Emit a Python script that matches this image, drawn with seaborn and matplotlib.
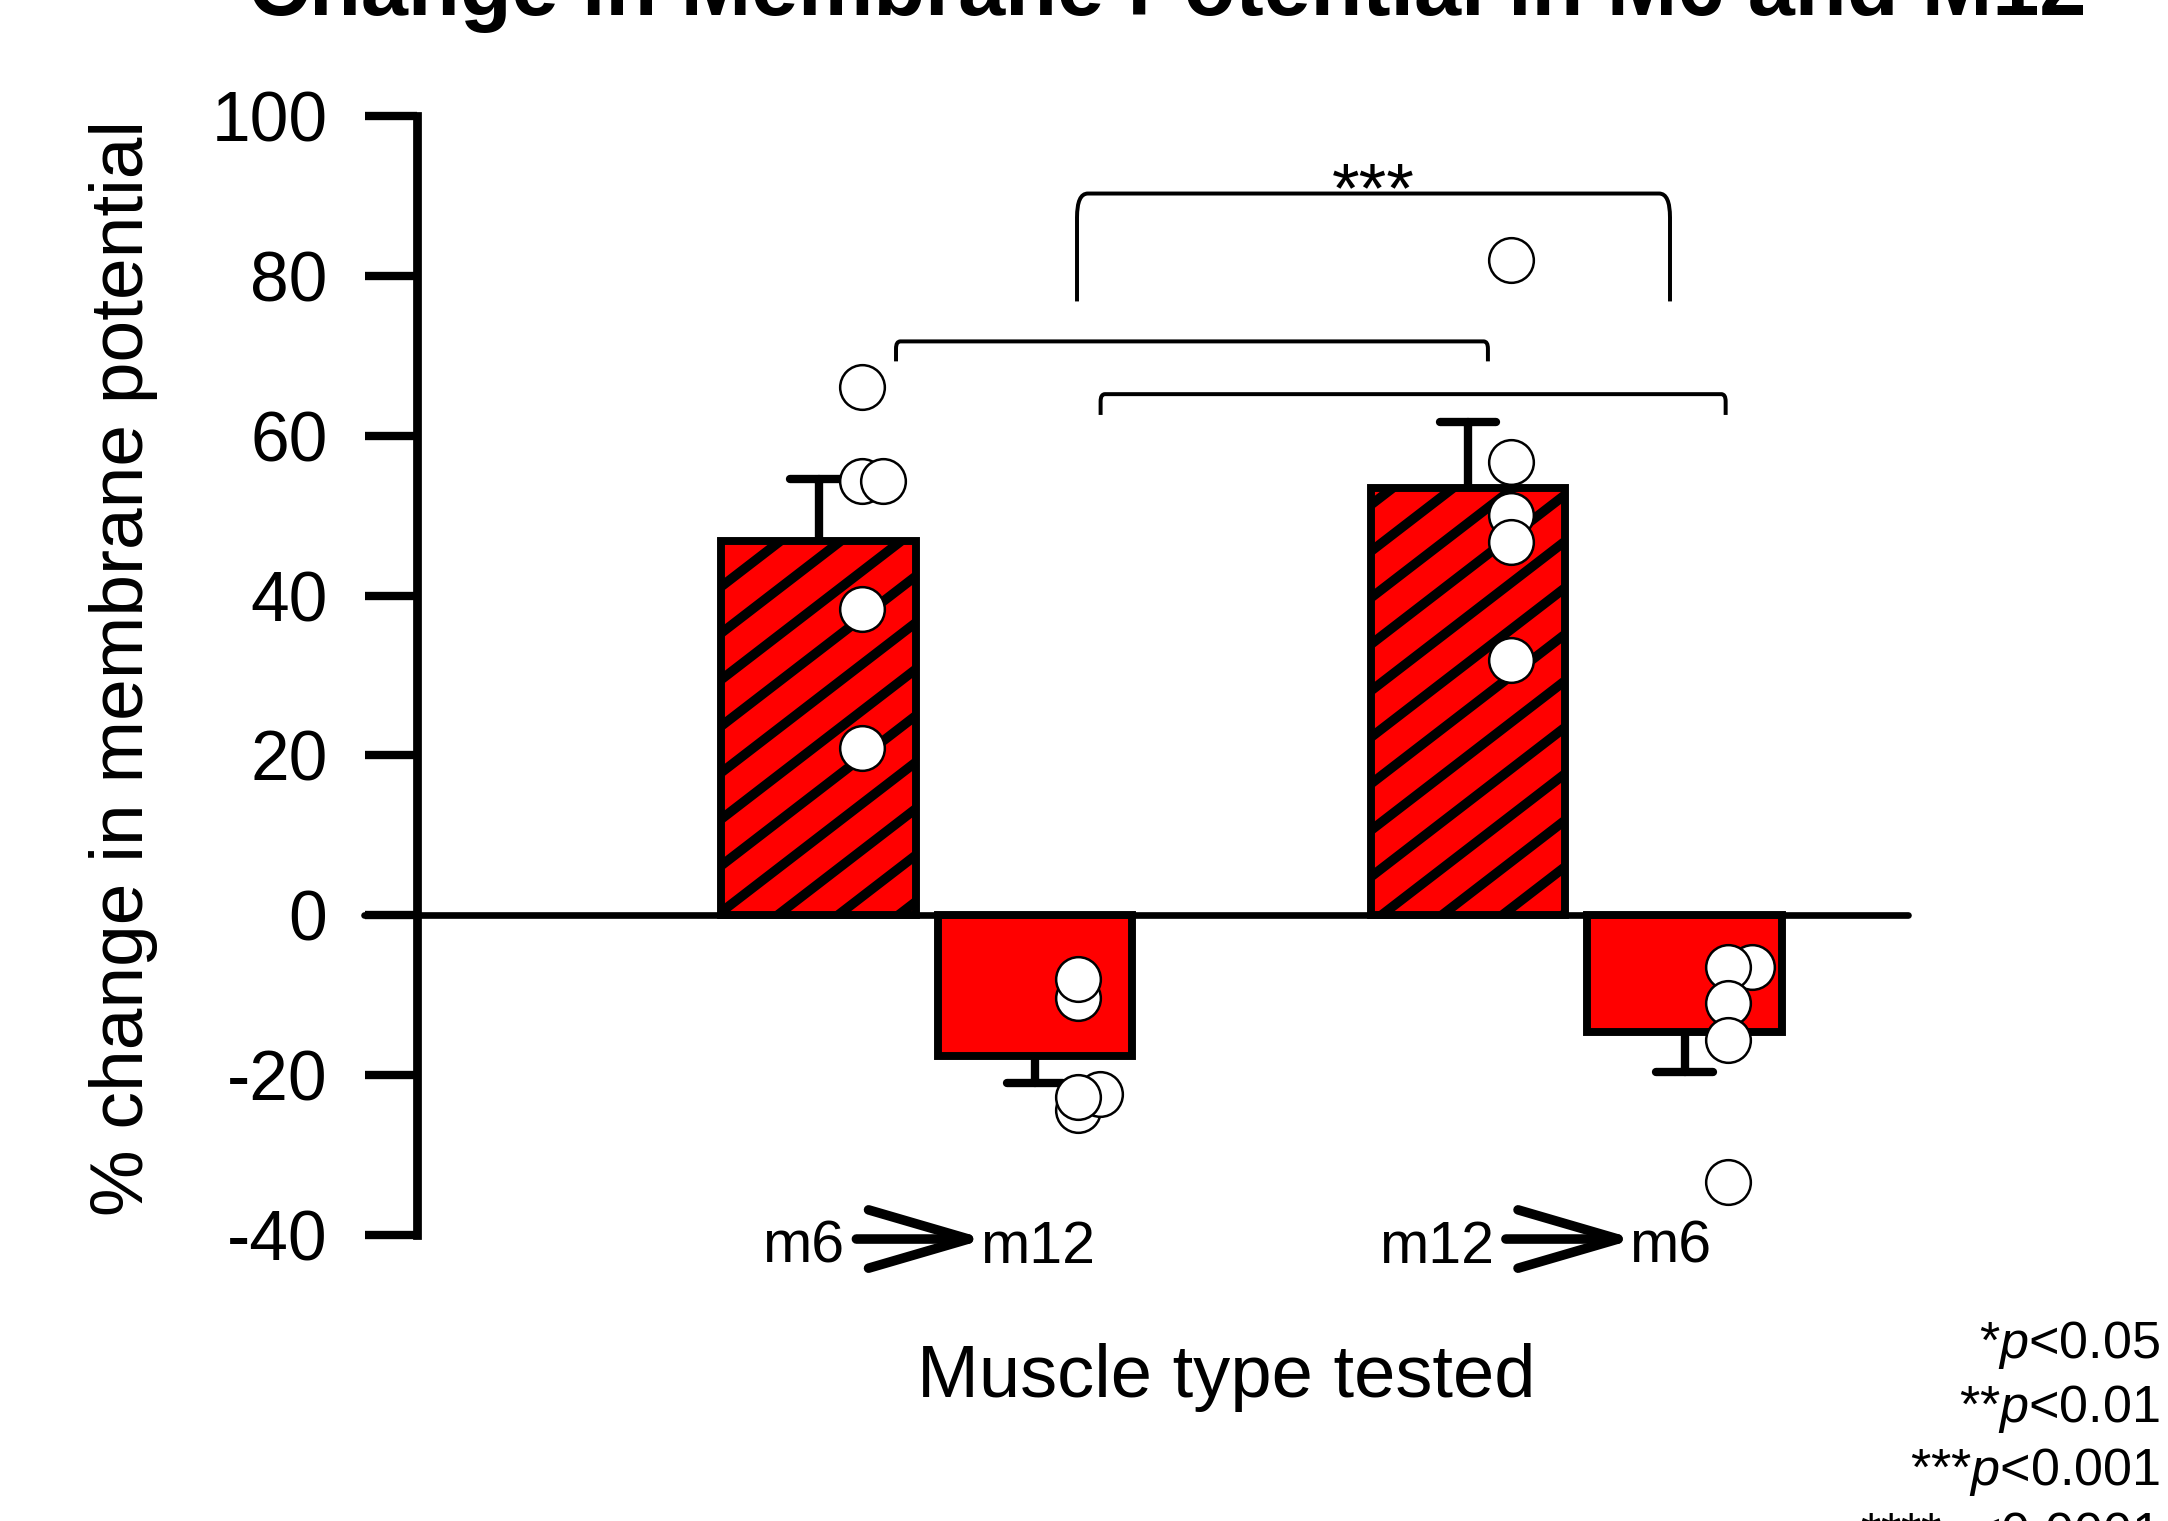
import numpy as np
import pandas as pd
import matplotlib
matplotlib.use("Agg")
import matplotlib.pyplot as plt
import seaborn as sns
from matplotlib.path import Path
from matplotlib.patches import PathPatch
from matplotlib.collections import LineCollection
import matplotlib.transforms as mtransforms

# ---------------- data ----------------
title_text = "Change in Membrane Potential in M6 and M12"
y_label = "% change in membrane potential"
x_label = "Muscle type tested"
group_parts = [("m6", "m12"), ("m12", "m6")]

bar_names = ["m6>m12 first", "m6>m12 second", "m12>m6 first", "m12>m6 second"]
vals_m6_m12_first = [66.1, 54.3, 54.3, 38.3, 20.9]
vals_m6_m12_second = [-10.4, -8.0, -24.4, -22.3, -22.7]
vals_m12_m6_first = [82.0, 56.7, 50.1, 46.7, 31.9]
vals_m12_m6_second = [-6.5, -6.5, -11.0, -15.6, -33.4]
hatched_bars = [True, False, True, False]

y_ticks = [-40, -20, 0, 20, 40, 60, 80, 100]
sig_legend = [r"*$\mathit{p}$<0.05", r"**$\mathit{p}$<0.01",
              r"***$\mathit{p}$<0.001", r"****$\mathit{p}$<0.0001"]
bracket_labels = ["***", "", ""]

# ---------------- layout ----------------
bar_pos = [0, 1, 3, 4]
point_nudge = [[0.2, 0.2, 0.3, 0.2, 0.2],
               [0.2, 0.2, 0.2, 0.3, 0.2],
               [0.2, 0.2, 0.2, 0.2, 0.2],
               [0.31, 0.2, 0.2, 0.2, 0.2]]
# (x_left, x_right, y_top, y_bottom, corner_dx, corner_dy)
brackets = [(1.194, 3.933, 90.3, 76.8, 0.05, 3.0),
            (0.358, 3.092, 71.8, 69.3, 0.02, 0.9),
            (1.303, 4.190, 65.2, 62.6, 0.02, 0.9)]

sns.set_style("white")
plt.rcParams['font.family'] = ['Liberation Sans', 'DejaVu Sans']
plt.rcParams['mathtext.fontset'] = 'custom'
plt.rcParams['mathtext.rm'] = 'Liberation Sans'
plt.rcParams['mathtext.it'] = 'Liberation Sans:italic'
plt.rcParams['text.color'] = 'black'
plt.rcParams['axes.labelcolor'] = 'black'
plt.rcParams['xtick.color'] = 'black'
plt.rcParams['ytick.color'] = 'black'

W, H, DPI = 2168, 1521, 300
fig = plt.figure(figsize=(W / DPI, H / DPI), dpi=DPI)
fig.patch.set_facecolor('white')
ax = fig.add_axes([417 / W, 1 - 1235 / H, 1491 / W, 1119 / H])
ax.set_facecolor('white')

all_vals = [vals_m6_m12_first, vals_m6_m12_second, vals_m12_m6_first, vals_m12_m6_second]
rows = []
for name, pos, vals, nud in zip(bar_names, bar_pos, all_vals, point_nudge):
    for v, n in zip(vals, nud):
        rows.append(dict(bar=name, pos=pos, value=v, xdot=pos + n))
df = pd.DataFrame(rows)

sns.barplot(data=df, x='pos', y='value', native_scale=True, orient='x',
            errorbar='se', capsize=0.26, width=0.9, color='#FF0000',
            saturation=1, edgecolor='black', linewidth=1.9,
            err_kws=dict(color='black', linewidth=2.0, solid_capstyle='round'),
            ax=ax)

ax.set_xlim(-1.8545, 5.0323)
ax.set_ylim(-40, 100)

for ln in ax.lines:
    ln.set_zorder(0.8)
    ln.set_solid_capstyle('round')

bars = list(ax.patches)
for p in bars:
    p.set_zorder(1)

# custom diagonal hatching clipped to bar shapes
p0 = ax.transData.transform((0, 0))
px_x = ax.transData.transform((1, 0))[0] - p0[0]
px_y = ax.transData.transform((0, 1))[1] - p0[1]
slope = 0.77 * px_x / px_y
dy = 46.5 / px_y
xa, ya = -0.432, 35.67
for p, h in zip(bars, hatched_bars):
    if not h:
        continue
    bx0, by0 = p.get_x(), p.get_y()
    bx1, by1 = bx0 + p.get_width(), by0 + p.get_height()
    ylo, yhi = min(by0, by1), max(by0, by1)
    kmin = int(np.floor((ylo - (ya + slope * (bx1 - xa))) / dy)) - 1
    kmax = int(np.ceil((yhi - (ya + slope * (bx0 - xa))) / dy)) + 1
    segs = []
    for k in range(kmin, kmax + 1):
        xs = np.array([bx0 - 0.1, bx1 + 0.1])
        ys = ya + slope * (xs - xa) + k * dy
        segs.append(list(zip(xs, ys)))
    lc = LineCollection(segs, colors='black', linewidths=2.3, zorder=1.05)
    ax.add_collection(lc)
    lc.set_clip_path(p)
ax.set_xlim(-1.8545, 5.0323)
ax.set_ylim(-40, 100)

# individual points
sns.scatterplot(data=df, x='xdot', y='value', s=115, color='white',
                edgecolor='black', linewidth=0.6, zorder=5, legend=False, ax=ax)

# zero line
ax.axhline(0, xmin=-(417 - 364) / 1491, xmax=1, color='black', lw=1.6,
           clip_on=False, zorder=3)

# axes styling
for s in ['top', 'right', 'bottom']:
    ax.spines[s].set_visible(False)
ax.spines['left'].set_linewidth(2.1)
ax.spines['left'].set_color('black')
ax.set_yticks(y_ticks)
ax.set_yticklabels([str(t) for t in y_ticks])
ax.tick_params(axis='y', length=12.5, width=2.0, pad=9, labelsize=16.7,
               direction='out', colors='black', labelcolor='black', left=True)
ax.set_xticks([])
ax.set_xlabel('')
ax.set_ylabel('')
ax.grid(False)

# group labels with arrows
trans = mtransforms.blended_transform_factory(ax.transData, ax.transAxes)
for (left, right), c in zip(group_parts, [0.5, 3.5]):
    xs, xe = c - 0.35, c + 0.232
    ax.annotate('', xy=(xe + 0.04, -0.0036), xytext=(xs + 0.025, -0.0036),
                xycoords=trans, textcoords=trans, annotation_clip=False,
                arrowprops=dict(arrowstyle='->,head_length=2.4,head_width=0.7',
                                lw=2.3, color='black', shrinkA=0, shrinkB=0,
                                mutation_scale=10, capstyle='round',
                                joinstyle='round'))
    ax.text(xs - 0.03, -0.025, left, transform=trans, ha='right',
            va='baseline', fontsize=14.2, color='black', clip_on=False)
    ax.text(xe + 0.012, -0.025, right, transform=trans, ha='left',
            va='baseline', fontsize=14.2, color='black', clip_on=False)

# significance brackets
for (x1, x2, yt, yb, rx, ry), lab in zip(brackets, bracket_labels):
    verts = [(x1, yb), (x1, yt - ry), (x1, yt), (x1 + rx, yt),
             (x2 - rx, yt), (x2, yt), (x2, yt - ry), (x2, yb)]
    codes = [Path.MOVETO, Path.LINETO, Path.CURVE3, Path.CURVE3,
             Path.LINETO, Path.CURVE3, Path.CURVE3, Path.LINETO]
    ax.add_patch(PathPatch(Path(verts, codes), fill=False, lw=0.95,
                           edgecolor='black', clip_on=False, zorder=4,
                           joinstyle='round', capstyle='butt'))
    if lab:
        ax.text((x1 + x2) / 2, 88.0, lab, ha='center', va='baseline',
                fontsize=17, color='black', clip_on=False)

# figure texts
fig.text(1167 / W, 1 - 15 / H, title_text, ha='center', va='baseline',
         fontsize=20.3, fontweight='bold', color='black')
fig.text(124 / W, 1 - 668 / H, y_label, rotation=90, ha='center',
         va='center', fontsize=18, color='black')
fig.text(1226 / W, 1 - 1397 / H, x_label, ha='center', va='baseline',
         fontsize=17.8, color='black')
for i, t in enumerate(sig_legend):
    fig.text(2160 / W, 1 - (1358 + 63.6 * i) / H, t, ha='right',
             va='baseline', fontsize=12.5, color='black')

fig.savefig('out.png', dpi=DPI, facecolor='white')
